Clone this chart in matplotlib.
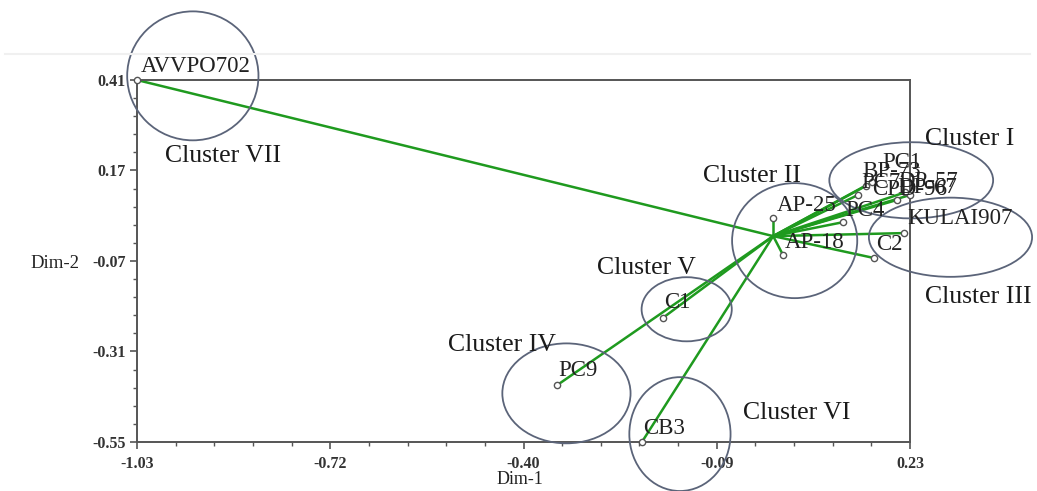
import matplotlib
matplotlib.use("Agg")
import matplotlib.pyplot as plt
from matplotlib.patches import Ellipse
from matplotlib.lines import Line2D
import numpy as np

plt.rcParams['font.family'] = ['Liberation Serif', 'DejaVu Serif']
plt.rcParams['axes.unicode_minus'] = False

# genotype coordinates (Dim-1, Dim-2)
names = ['AVVPO702', 'AP-25', 'AP-18', 'PC4', 'KULAI907', 'C2',
         'PC1', 'BP-73', 'PC7', 'CPD-96', 'DP-57', 'DP-67',
         'C1', 'PC9', 'CB3']
dim1 = [-1.03, 0.007, 0.023, 0.121, 0.220, 0.171,
        0.168, 0.158, 0.145, 0.209, 0.230, 0.222,
        -0.173, -0.345, -0.207]
dim2 = [0.41, 0.044, -0.054, 0.033, 0.004, -0.062,
        0.139, 0.129, 0.105, 0.092, 0.105, 0.112,
        -0.221, -0.399, -0.55]
hub = (0.007, -0.004)

# cluster circles: centre x, centre y, width, height (data units)
clusters = ['Cluster I', 'Cluster II', 'Cluster III', 'Cluster IV',
            'Cluster V', 'Cluster VI', 'Cluster VII']
cl_x = [0.232, 0.042, 0.296, -0.330, -0.134, -0.145, -0.939]
cl_y = [0.144, -0.016, -0.007, -0.421, -0.198, -0.529, 0.421]
cl_w = [0.267, 0.204, 0.266, 0.209, 0.147, 0.165, 0.214]
cl_h = [0.202, 0.305, 0.210, 0.265, 0.170, 0.302, 0.342]

# cluster label anchors (left edge, vertical centre)
lab_x = [0.254, -0.107, 0.254, -0.523, -0.280, -0.042, -0.984]
lab_y = [0.253, 0.155, -0.166, -0.293, -0.089, -0.473, 0.208]

# point label offsets in pixels
offs = {'AVVPO702': (4, 13), 'AP-25': (4, 13), 'AP-18': (2, 12),
        'PC4': (2, 12), 'KULAI907': (3, 15), 'C2': (2, 13),
        'PC1': (10, 20), 'BP-73': (-4, 14), 'PC7': (3, 13),
        'CPD-96': (-25, 10), 'DP-57': (-12, 14), 'DP-67': (-8, 5),
        'C1': (1, 15), 'PC9': (1, 15), 'CB3': (1, 13)}

xticks = [-1.03, -0.72, -0.40, -0.09, 0.23]
yticks = [-0.55, -0.31, -0.07, 0.17, 0.41]

fig = plt.figure(figsize=(10.37, 4.91), dpi=100)
ax = fig.add_axes([137/1037, 1 - 442/491, (910 - 137)/1037, (442 - 80)/491])

# branches from the hub
for x, y in zip(dim1, dim2):
    ax.plot([hub[0], x], [hub[1], y], color='#1f9a1f', lw=1.8, zorder=2,
            clip_on=False, solid_capstyle='round')
ax.plot(dim1, dim2, 'o', ms=4.5, mfc='white', mec='#555555', mew=1.0,
        zorder=4, clip_on=False)

for n, x, y in zip(names, dim1, dim2):
    dx, dy = offs[n]
    ax.annotate(n, (x, y), xytext=(dx * 0.72, dy * 0.72), textcoords='offset points',
                fontsize=16.5, color='#222222', va='center', ha='left', zorder=5,
                annotation_clip=False)

for cx, cy, w, h in zip(cl_x, cl_y, cl_w, cl_h):
    ax.add_patch(Ellipse((cx, cy), w, h, fill=False, ec='#5b6479', lw=1.3,
                         clip_on=False, zorder=3))

for c, x, y in zip(clusters, lab_x, lab_y):
    ax.text(x, y, c, fontsize=18.5, color='#1a1a1a', ha='left', va='center',
            clip_on=False)

ax.set_xlim(-1.03, 0.23)
ax.set_ylim(-0.55, 0.41)
ax.set_xticks(np.linspace(-1.03, 0.23, 5))
ax.set_xticklabels(['%.2f' % v for v in xticks])
ax.set_yticks(np.linspace(-0.55, 0.41, 5))
ax.set_yticklabels(['%.2f' % v for v in yticks])
ax.set_xticks(np.linspace(-1.03, 0.23, 21), minor=True)
ax.set_yticks(np.linspace(-0.55, 0.41, 21), minor=True)
ax.tick_params(which='major', length=5, width=1.2, color='#555555',
               labelsize=11.5, labelcolor='#333333', pad=3)
ax.tick_params(axis='x', which='major', pad=5)
ax.tick_params(which='minor', length=3, width=1.0, color='#555555')
for lab in ax.get_xticklabels() + ax.get_yticklabels():
    lab.set_fontweight('bold')
for s in ax.spines.values():
    s.set_color('#555555')
    s.set_linewidth(1.4)

fig.text(520/1037, 1 - 480/491, 'Dim-1', fontsize=13, ha='center', va='center',
         color='#222222')
fig.text(55/1037, 1 - 263/491, 'Dim-2', fontsize=13.5, ha='center', va='center',
         color='#222222')

fig.add_artist(Line2D([5/1037, 1030/1037], [1 - 54/491, 1 - 54/491],
                      color='#f0f0f0', lw=1.5))

fig.savefig('out.png', dpi=100)
